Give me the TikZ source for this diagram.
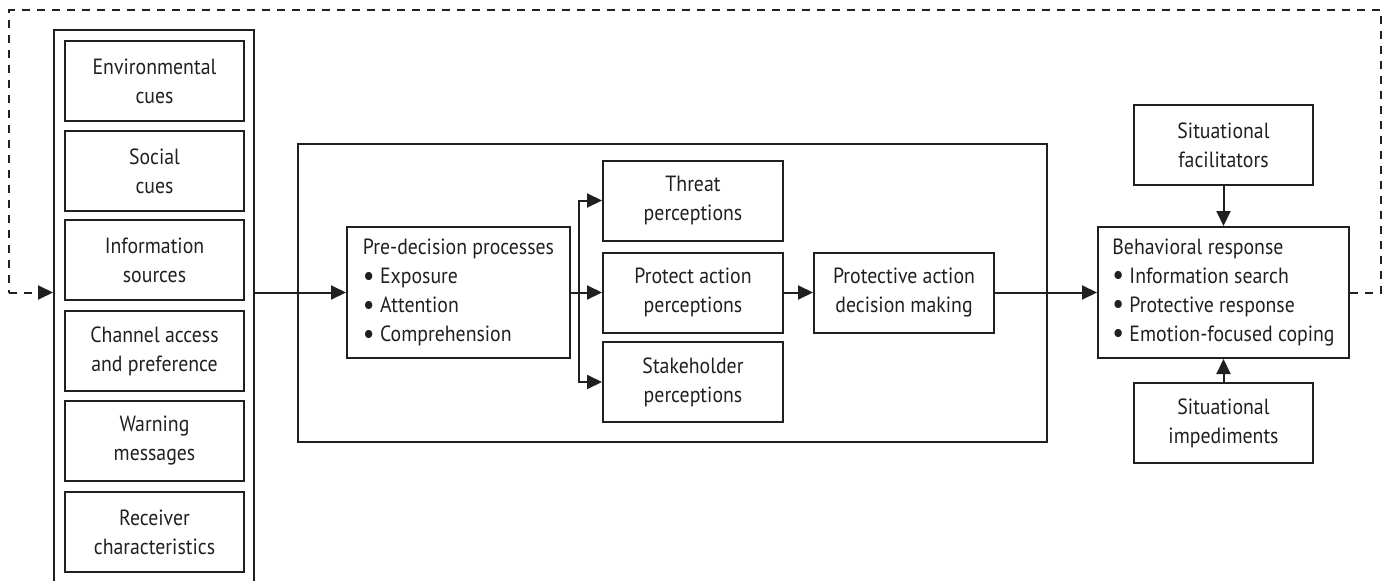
\documentclass[tikz,border=0pt]{standalone}
\usepackage{fontspec}
\setmainfont{PT Sans}[FakeStretch=0.9]
\usetikzlibrary{arrows.meta}
\definecolor{ink}{HTML}{231F20}
\newcommand{\bul}{\raisebox{-1.5pt}{\fontsize{29}{29}\selectfont\textbullet}}
\begin{document}
\begin{tikzpicture}[x=1pt,y=-1pt,
  box/.style={draw=ink,line width=2pt,inner sep=0pt,text=ink,
    font=\fontsize{22}{29}\selectfont,align=center},
  cbox/.style={box,minimum width=179,minimum height=80},
  arr/.style={draw=ink,line width=2pt,-{Triangle[length=15pt,width=14pt]}},
  fb/.style={draw=ink,line width=2pt,dash pattern=on 8pt off 7pt}]
\useasboundingbox (0,0) rectangle (1385,581);
\clip (0,0) rectangle (1385,581);
% left column
\node[box,minimum width=200,minimum height=570] (leftcol) at (154,315) {};
\node[cbox] (env) at (154.5,81) {Environmental\\cues};
\node[cbox] (soc) at (154.5,171) {Social\\cues};
\node[cbox] (inf) at (154.5,260) {Information\\sources};
\node[cbox] (chan) at (154.5,351) {Channel access\\and preference};
\node[cbox] (warn) at (154.5,441) {Warning\\messages};
\node[cbox] (recv) at (154.5,532) {Receiver\\characteristics};
% middle frame
\node[box,minimum width=749,minimum height=298] (frame) at (672.5,293) {};
\node[box,align=left,minimum width=223,minimum height=131] (pre) at (458.5,292.5)
  {Pre-decision processes\\\bul\ Exposure\\\bul\ Attention\\\bul\ Comprehension};
\node[cbox,minimum width=180] (threat) at (693,200.5) {Threat\\perceptions};
\node[cbox,minimum width=180] (prot) at (693,292.5) {Protect action\\perceptions};
\node[cbox,minimum width=180] (stake) at (693,382) {Stakeholder\\perceptions};
\node[cbox,minimum width=180] (dec) at (904,292.5) {Protective action\\decision making};
% right side
\node[box,align=left,minimum width=251,minimum height=131] (beh) at (1223.5,292.5)
  {Behavioral response\\\bul\ Information search\\\bul\ Protective response\\\bul\ Emotion-focused coping};
\node[cbox] (fac) at (1223.5,145) {Situational\\facilitators};
\node[cbox] (imp) at (1223.5,423) {Situational\\impediments};
% connectors
\coordinate (br) at (579,292.5);
\draw[arr] (leftcol.east |- pre.west) -- (pre.west);
\draw[draw=ink,line width=2pt] (pre.east) -- (br);
\draw[arr] (br) |- (threat.west);
\draw[arr] (br) |- (stake.west);
\draw[arr] (br) -- (prot.west);
\draw[arr] (prot.east) -- (dec.west);
\draw[arr] (dec.east) -- (beh.west);
\draw[arr] (fac.south) -- (beh.north);
\draw[arr] (imp.north) -- (beh.south);
% feedback loop
\coordinate (c1) at (1381,292.5);
\coordinate (c2) at (1381,10);
\coordinate (c3) at (9,10);
\coordinate (c4) at (9,292.5);
\draw[fb] (beh.east) -- (c1) -- (c2) -- (c3) -- (c4);
\draw[arr,dash pattern=on 8pt off 7pt] (c4) -- (leftcol.west |- c4);
\end{tikzpicture}
\end{document}
